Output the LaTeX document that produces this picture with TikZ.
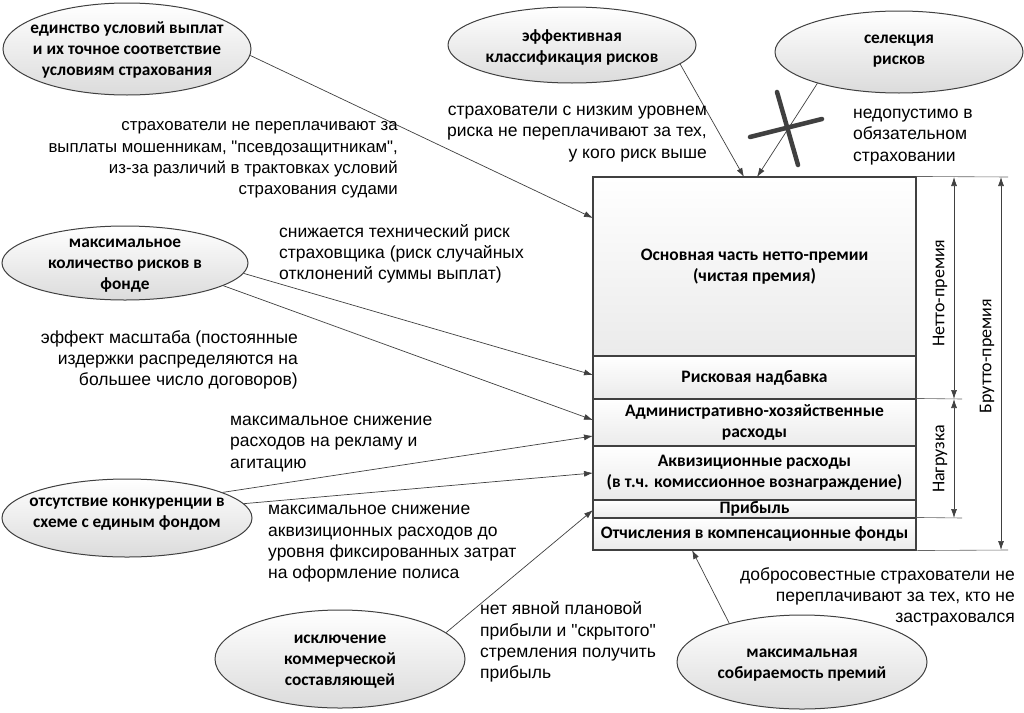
\documentclass[tikz,border=0pt]{standalone}
\usepackage{fontspec}
\setmainfont{Liberation Sans}[Ligatures=TeXOff]
\newfontfamily\carlito{Carlito}
\usetikzlibrary{shapes.geometric,arrows.meta}
\definecolor{dkgray}{HTML}{404040}
\begin{document}
\begin{tikzpicture}[x=1pt,y=-1pt,
  ell/.style={ellipse, draw=dkgray, line width=1pt, top color=white, bottom color=black!14, inner sep=0pt},
  elltext/.style={align=center, font=\carlito\bfseries\fontsize{17.3}{21}\selectfont, inner sep=0pt},
  lbl/.style={font=\fontsize{17.5}{21.3}\selectfont, inner sep=0pt},
  lblsmall/.style={font=\fontsize{16.8}{21.3}\selectfont, inner sep=0pt},
  row/.style={draw=dkgray, line width=1.1pt, top color=white, bottom color=black!8, minimum width=323pt, inner sep=0pt, align=center, font=\carlito\bfseries\fontsize{17.5}{21}\selectfont},
  conn/.style={draw=dkgray, line width=0.7pt, -{Latex[length=9pt,width=6pt]}},
  dimarr/.style={draw=dkgray, line width=0.7pt, {Latex[length=9pt,width=6pt]}-{Latex[length=9pt,width=6pt]}},
  ext/.style={draw=dkgray!80, line width=0.6pt},
  crossbar/.style={draw=dkgray, line width=4.5pt, line cap=round},
  dimlbl/.style={font=\carlito\fontsize{18}{20}\selectfont, inner sep=0pt, rotate=90},
]
\fill[white] (0,0) rectangle (1024,712);
\useasboundingbox (0,0) rectangle (1024,712);

% ellipses
\node[ell, minimum width=248pt, minimum height=92pt] (E1) at (127,49) {};
\node[elltext] (E1t) at (127,50) {единство условий выплат\\и их точное соответствие\\условиям страхования};
\node[ell, minimum width=248pt, minimum height=76pt] (E2) at (572,45) {};
\node[elltext] (E2t) at (572,47) {эффективная\\классификация рисков};
\node[ell, minimum width=248pt, minimum height=82pt] (E3) at (899,52) {};
\node[elltext] (E3t) at (899,51) {селекция\\рисков};
\node[ell, minimum width=246pt, minimum height=74pt] (E4) at (125,263) {};
\node[elltext] (E4t) at (125,266) {максимальное\\количество рисков в\\фонде};
\node[ell, minimum width=250pt, minimum height=78pt] (E5) at (127,518) {};
\node[elltext] (E5t) at (127,514) {отсутствие конкуренции в\\схеме с единым фондом};
\node[ell, minimum width=250pt, minimum height=98pt] (E6) at (340,659) {};
\node[elltext] (E6t) at (340,662) {исключение\\коммерческой\\составляющей};
\node[ell, minimum width=250pt, minimum height=94pt] (E7) at (802,662) {};
\node[elltext] (E7t) at (802,665) {максимальная\\собираемость премий};

% stacked box
\node[row, minimum height=179pt] (R1) at (754.5,266.5) {Основная часть нетто-премии\\(чистая премия)};
\node[row, minimum height=43pt] (R2) at (754.5,377.5) {Рисковая надбавка};
\node[row, minimum height=47pt] (R3) at (754.5,422.5) {Административно-хозяйственные\\расходы};
\node[row, minimum height=54pt] (R4) at (754.5,473) {Аквизиционные расходы\\(в т.ч. комиссионное вознаграждение)};
\node[row, minimum height=18pt] (R5) at (754.5,509) {Прибыль};
\node[row, minimum height=32pt] (R6) at (754.5,534) {Отчисления в компенсационные фонды};

% dimension lines
\coordinate (xT) at (1008,177);
\coordinate (xM) at (962,399);
\coordinate (xL) at (962,518);
\coordinate (xB) at (1008,550);
\draw[ext] (R1.north east) -- (xT);
\draw[ext] (R3.north east) -- (xM);
\draw[ext] (R6.north east) -- (xL);
\draw[ext] (R6.south east) -- (xB);
\coordinate (n1) at (954,177);
\coordinate (n2) at (954,399);
\coordinate (n3) at (954,518);
\coordinate (b1) at (1001,177);
\coordinate (b2) at (1001,550);
\draw[dimarr] (n1) -- (n2);
\draw[dimarr] (n2) -- (n3);
\draw[dimarr] (b1) -- (b2);
\node[dimlbl] (NL) at (940,293) {Нетто-премия};
\node[dimlbl] (NG) at (940,459) {Нагрузка};
\node[dimlbl] (BL) at (987,356) {Брутто-премия};

% connectors
\coordinate (t1) at (593,218);
\coordinate (t2) at (744,177);
\coordinate (t3) at (757,177);
\coordinate (t4) at (593,375);
\coordinate (t5) at (593,420);
\coordinate (t6) at (593,436);
\coordinate (t7) at (593,473);
\coordinate (t8) at (593,510);
\coordinate (t9) at (692,550);
\draw[conn] (E1.-3) -- (t1);
\draw[conn] (E2.-10) -- (t2);
\draw[conn] (E3.-159) -- (t3);
\draw[conn] (E4.-5) -- (t4);
\draw[conn] (E4.-13) -- (t5);
\draw[conn] (E5.15) -- (t6);
\draw[conn] (E5.7) -- (t7);
\draw[conn] (E6.14) -- (t8);
\draw[conn] (E7.152) -- (t9);

% cross
\coordinate (c1) at (777,92);
\coordinate (c2) at (798,165);
\coordinate (c3) at (750,137);
\coordinate (c4) at (822,119);
\draw[crossbar] (c1) -- (c2);
\draw[crossbar] (c3) -- (c4);

% labels
\node[lblsmall, align=right, anchor=east] (L1) at (398,160) {страхователи не переплачивают за\\выплаты мошенникам, "псевдозащитникам",\\из-за различий в трактовках условий\\страхования судами};
\node[lbl, align=right, anchor=east] (L2) at (707,134) {страхователи с низким уровнем\\риска не переплачивают за тех,\\у кого риск выше};
\node[lbl, align=left, anchor=west] (L3) at (853,137) {недопустимо в\\обязательном\\страховании};
\node[lbl, align=left, anchor=west] (L4) at (279,254) {снижается технический риск\\страховщика (риск случайных\\отклонений суммы выплат)};
\node[lbl, align=right, anchor=east] (L5) at (298,360) {эффект масштаба (постоянные\\издержки распределяются на\\большее число договоров)};
\node[lbl, align=left, anchor=west] (L6) at (230,444) {максимальное снижение\\расходов на рекламу и\\агитацию};
\node[lbl, align=left, anchor=west] (L7) at (268,544) {максимальное снижение\\аквизиционных расходов до\\уровня фиксированных затрат\\на оформление полиса};
\node[lbl, align=left, anchor=west] (L8) at (480,642) {нет явной плановой\\прибыли и "скрытого"\\стремления получить\\прибыль};
\node[lbl, align=right, anchor=east] (L9) at (1015,597) {добросовестные страхователи не\\переплачивают за тех, кто не\\застраховался};
\end{tikzpicture}
\end{document}
